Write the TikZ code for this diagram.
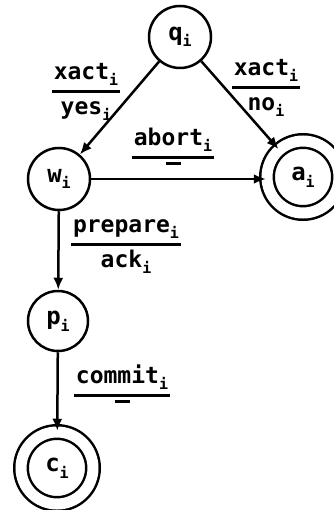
\documentclass[tikz,border=0pt]{standalone}
\usepackage{fontspec}
\setmainfont{DejaVu Sans Mono}
\usetikzlibrary{arrows.meta}
\newcommand\sbi[1]{\raisebox{-0.5ex}{\fontsize{15}{15}\selectfont #1}}
\newcommand\dsh{\rule[0.9ex]{15pt}{2.6pt}}
\newcommand\frc[2]{\setlength{\arrayrulewidth}{2.6pt}\setlength{\tabcolsep}{2pt}\renewcommand{\arraystretch}{1.0}\begin{tabular}{c}#1\\[3pt]\hline\rule{0pt}{22pt}#2\end{tabular}}
\newcommand\frd[1]{\setlength{\arrayrulewidth}{2.6pt}\setlength{\tabcolsep}{2pt}\renewcommand{\arraystretch}{1.0}\begin{tabular}{c}#1\\[3pt]\hline\rule{0pt}{10pt}\dsh\end{tabular}}
\begin{document}
\begin{tikzpicture}[x=1pt,y=-1pt,
  st/.style={circle,draw,line width=2.5pt,minimum size=#1,inner sep=0pt,font=\fontsize{24}{24}\selectfont\bfseries},
  acc/.style={double=white,double distance=11pt,line width=2.5pt},
  arr/.style={line width=2.5pt,-{Latex[length=12pt,width=10pt]}},
  lab/.style={font=\fontsize{23}{25}\selectfont\bfseries,inner sep=0pt}]
\useasboundingbox (0,0) rectangle (333,510);
\node[st=62pt] (q) at (180,37) {q\sbi{i}};
\node[st=62pt] (w) at (59,179) {w\sbi{i}};
\node[st=72pt,acc] (a) at (303,177) {a\sbi{i}};
\node[st=60pt] (p) at (58,321) {p\sbi{i}};
\node[st=72pt,acc] (c) at (57,468) {c\sbi{i}};
\draw[arr] (q) -- (w);
\draw[arr] (q) -- (a);
\draw[arr] (w) -- (w -| a.west) coordinate (aw);
\draw[arr] (w) -- (p);
\draw[arr] (p) -- (c);
\node[lab] (l1) at (86,92) {\frc{xact\sbi{i}}{yes\sbi{i}}};
\node[lab] (l2) at (266,88) {\frc{xact\sbi{i}}{no\sbi{i}}};
\node[lab,anchor=south] (l3) at (173,184) {\frd{abort\sbi{i}}};
\node[lab] (l4) at (126,245) {\frc{prepare\sbi{i}}{ack\sbi{i}}};
\node[lab,anchor=south] (l5) at (122,422) {\frd{commit\sbi{i}}};
\end{tikzpicture}
\end{document}
